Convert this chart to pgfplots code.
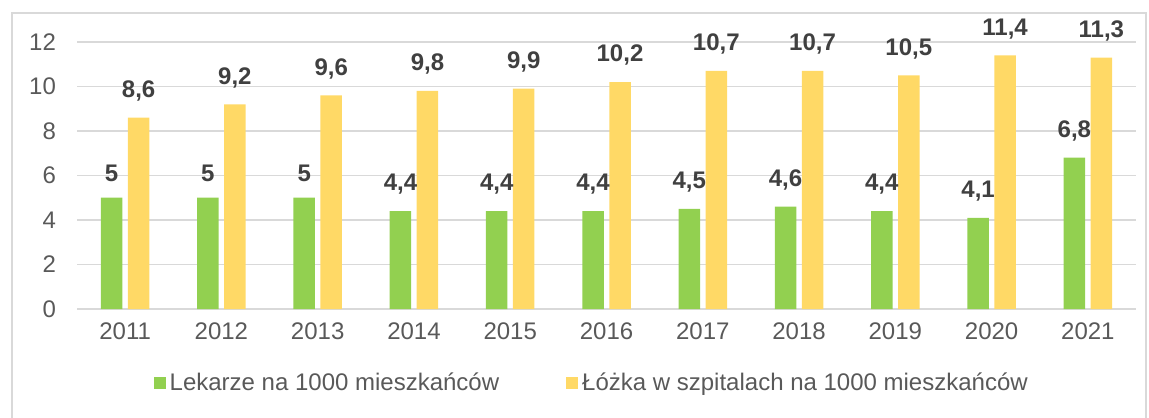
\documentclass[border=0pt]{standalone}
\usepackage{fontspec}
\setmainfont{Liberation Sans}
\usepackage{pgfplots}
\pgfplotsset{compat=1.18}
\definecolor{bargreen}{HTML}{92D050}
\definecolor{baryellow}{HTML}{FFD966}
\definecolor{gridgray}{HTML}{D9D9D9}
\definecolor{ticktext}{HTML}{595959}
\definecolor{labeltext}{HTML}{404040}
\begin{document}
\begin{tikzpicture}
\useasboundingbox (-38.5pt,-54pt) rectangle (536pt,154.5pt);
\draw[gridgray, line width=0.7pt] (-32.5pt,-70pt) rectangle (534.5pt,148pt);
\begin{axis}[
  at={(0pt,0pt)}, anchor=south west,
  width=529.5pt, height=133.5pt, scale only axis,
  ymin=0, ymax=12, ytick={0,2,...,12},
  xmin=-0.5, xmax=10.5, xtick={0,...,10},
  xticklabels={2011,2012,2013,2014,2015,2016,2017,2018,2019,2020,2021},
  ybar, bar width=10.75pt,
  axis line style={draw=none},
  ymajorgrids, grid style={gridgray, line width=0.8pt},
  major tick length=0pt,
  tick label style={font=\fontsize{12}{14}\selectfont, text=ticktext},
  /pgf/number format/assume math mode=true,
  yticklabel style={xshift=-7pt},
  xticklabel style={yshift=-3.5pt},
  clip=false,
  nodes near coords,
  /pgf/number format/use comma,
  /pgf/number format/fixed,
  every node near coord/.append style={font=\bfseries\fontsize{12}{14}\selectfont, text=labeltext, anchor=south, inner sep=0pt, yshift=8pt},
  legend style={at={(0.487,-0.277)}, anchor=center, draw=none, fill=none,
    legend columns=2, font=\fontsize{12}{14}\selectfont, text=ticktext,
    /tikz/every even column/.append style={column sep=31.5pt}},
  legend image code/.code={\path[#1,draw=none] (0pt,-3pt) rectangle (6pt,3pt);},
]
\addplot[fill=bargreen, draw=none, bar shift=-6.75pt] coordinates {
 (0,5) (1,5) (2,5) (3,4.4) (4,4.4) (5,4.4) (6,4.5) (7,4.6) (8,4.4) (9,4.1) (10,6.8)};
\addplot[fill=baryellow, draw=none, bar shift=6.75pt] coordinates {
 (0,8.6) (1,9.2) (2,9.6) (3,9.8) (4,9.9) (5,10.2) (6,10.7) (7,10.7) (8,10.5) (9,11.4) (10,11.3)};
\legend{Lekarze na 1000 mieszkańców, Łóżka w szpitalach na 1000 mieszkańców}
\end{axis}
\end{tikzpicture}
\end{document}
